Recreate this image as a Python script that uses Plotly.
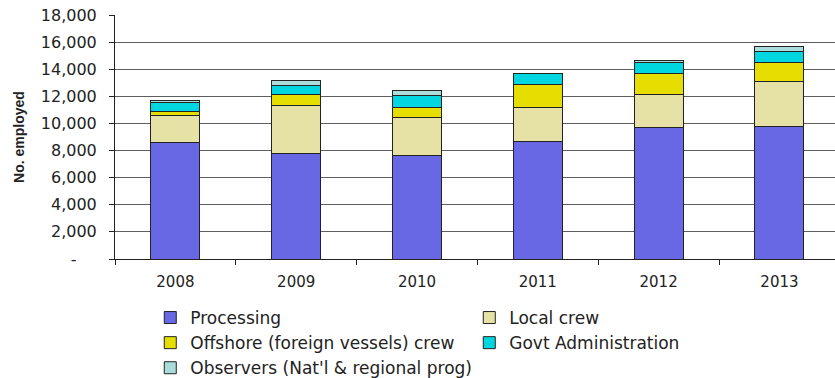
import plotly.graph_objects as go

years = ["2008", "2009", "2010", "2011", "2012", "2013"]
processing = [8600, 7800, 7600, 8650, 9700, 9750]
local_crew = [1950, 3550, 2850, 2550, 2450, 3350]
offshore_crew = [300, 800, 700, 1650, 1550, 1400]
govt_admin = [700, 650, 900, 800, 800, 800]
observers = [150, 350, 350, 50, 150, 350]

series_names = ["Processing", "Local crew", "Offshore (foreign vessels) crew",
                "Govt Administration", "Observers (Nat'l & regional prog)"]
series_values = [processing, local_crew, offshore_crew, govt_admin, observers]
series_colors = ["#6868E4", "#E6E2A6", "#E6DE00", "#00D6E0", "#AADCDC"]

y_tickvals = [0, 2000, 4000, 6000, 8000, 10000, 12000, 14000, 16000, 18000]
y_ticktext = ["-\u00a0\u00a0\u00a0\u00a0", "2,000", "4,000", "6,000", "8,000", "10,000",
              "12,000", "14,000", "16,000", "18,000"]

fig = go.Figure()
for name, vals, col in zip(series_names, series_values, series_colors):
    fig.add_trace(go.Bar(
        x=years, y=vals, name=name,
        marker=dict(color=col, line=dict(color="#222222", width=1)),
    ))

fig.update_layout(
    barmode="stack",
    bargap=0.595,
    width=835, height=378,
    margin=dict(l=115, r=0, t=15, b=119, autoexpand=False),
    paper_bgcolor="white",
    plot_bgcolor="white",
    font=dict(family="DejaVu Sans", size=14, color="#222222"),
    showlegend=True,
    legend=dict(
        orientation="h",
        x=0.049, xanchor="left",
        y=-0.168, yanchor="top",
        entrywidth=274,
        font=dict(family="DejaVu Sans", size=17, color="#222222"),
        traceorder="normal",
    ),
    xaxis=dict(
        type="category",
        range=[-0.5, 5.46],
        showline=True, linecolor="#222222", linewidth=1,
        ticks="outside", tickson="boundaries", ticklen=5, tickcolor="#222222",
        showgrid=False,
        tickfont=dict(family="DejaVu Sans", size=15),
        ticklabelstandoff=9,
    ),
    yaxis=dict(
        range=[0, 18000],
        tickvals=y_tickvals, ticktext=y_ticktext,
        showline=True, linecolor="#222222", linewidth=1,
        ticks="outside", ticklen=5, tickcolor="#222222",
        showgrid=True, gridcolor="#5E5E5E", gridwidth=1,
        zeroline=False,
        tickfont=dict(family="DejaVu Sans", size=16),
        ticklabelstandoff=9,
        ticklabeloverflow="allow",
        title=dict(text="No. employed", standoff=12,
                   font=dict(family="Liberation Sans", size=14, color="#222222", weight="bold")),
    ),
)

fig.write_html("out.html", config={"displayModeBar": False},
               post_script="document.body.style.margin='0px';")
